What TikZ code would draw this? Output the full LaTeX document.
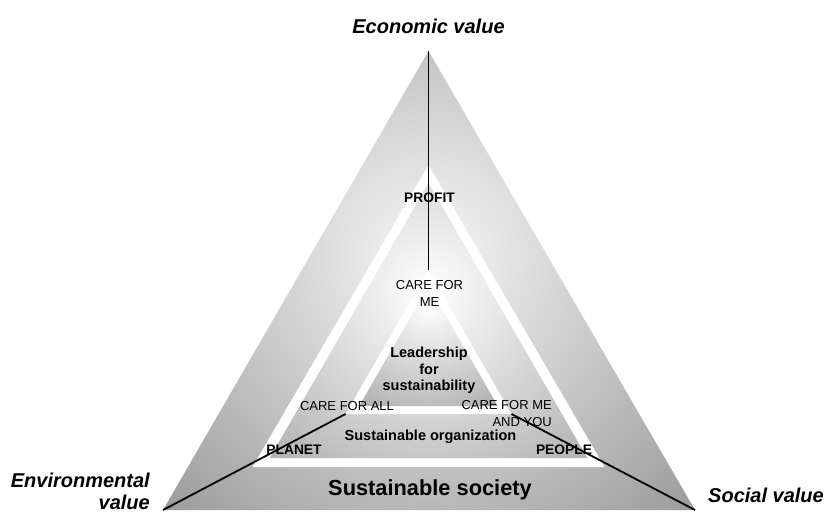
\documentclass[tikz,border=0pt]{standalone}
\usepackage{fontspec}
\setmainfont{Liberation Sans}
\usetikzlibrary{positioning}

\begin{document}
\begin{tikzpicture}[x=1pt,y=-1pt,inner sep=0pt,
  valuelbl/.style={font=\fontsize{20}{21.5}\selectfont\bfseries\itshape},
  levellbl/.style={font=\fontsize{14.5}{16.5}\selectfont\bfseries},
  pillar/.style={font=\fontsize{13.8}{16}\selectfont\bfseries},
  care/.style={font=\fontsize{13}{16.5}\selectfont},
  link/.style={line width=1.8pt,black}]

\useasboundingbox (0,0) rectangle (826,513);

% corners
\coordinate (econ)  at (428.5,51);
\coordinate (envi)  at (163,510);
\coordinate (soc)   at (695,510);
\coordinate (me)    at (428.5,270);
\coordinate (all)   at (345.5,414);
\coordinate (meyou) at (511.5,414);

% society
\begin{scope}
  \clip (econ) -- (envi) -- (soc) -- cycle;
  \shade[inner color=black!3,outer color=black!66] (428.5,255) circle (640);
\end{scope}
\fill[white] (428.5,165) -- (252.5,467) -- (604.5,467) -- cycle;

% organization
\begin{scope}
  \clip (428.5,183) -- (269.7,458) -- (587.3,458) -- cycle;
  \shade[inner color=white,outer color=black!62] (428.5,290) circle (470);
\end{scope}
\fill[white] (me) -- (all) -- (meyou) -- cycle;

% leadership
\begin{scope}
  \clip (428.5,286) -- (359.2,406) -- (497.8,406) -- cycle;
  \shade[inner color=white,outer color=black!56] (428.5,305) circle (215);
\end{scope}

% links
\draw[link] (econ) -- (me);
\draw[link] (envi) -- (all);
\draw[link] (soc) -- (meyou);

% labels
\node[valuelbl] (econlbl) at (428.5,26) {Economic value};
\node[valuelbl,align=right,anchor=east] (envilbl) at (150,491.5) {Environmental\\value};
\node[valuelbl,anchor=west] (soclbl) at (708,495) {Social value};

\node[font=\fontsize{21.8}{24}\selectfont\bfseries] (society) at (430,489.5) {Sustainable society};
\node[levellbl] (organization) at (430.5,437) {Sustainable organization};
\node[levellbl,align=center] (leadership) at (429,370.5) {Leadership\\for\\sustainability};

\node[pillar] (profit) at (429.5,198) {PROFIT};
\node[pillar] (planet) at (294,450) {PLANET};
\node[pillar] (people) at (564,450) {PEOPLE};

\node[care,align=center] (careme) at (429.5,293.5) {CARE FOR\\ME};
\node[care] (careall) at (347,406) {CARE FOR ALL};
\node[care,align=right,anchor=east] (caremeyou) at (552,413.5) {CARE FOR ME\\AND YOU};
\end{tikzpicture}
\end{document}
